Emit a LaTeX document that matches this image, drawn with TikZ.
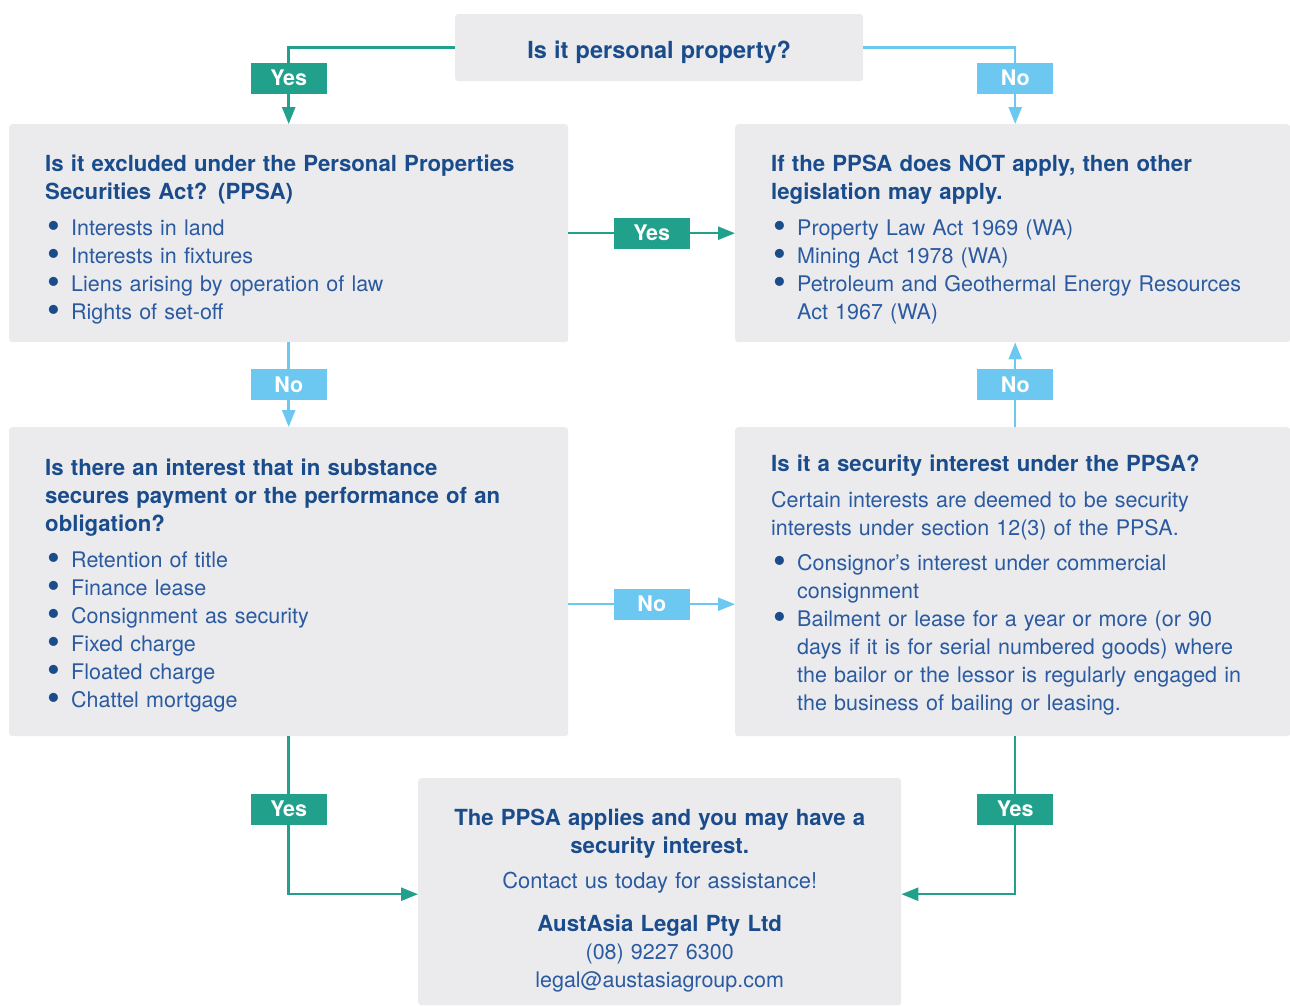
\documentclass[tikz,border=0pt]{standalone}
\usepackage{fontspec}
\usepackage{graphicx}
\setmainfont{TeX Gyre Heros}
\definecolor{boxgray}{RGB}{235, 235, 238}
\definecolor{headblue}{RGB}{26, 76, 140}
\definecolor{textblue}{RGB}{42, 90, 160}
\definecolor{yesteal}{RGB}{33, 160, 140}
\definecolor{nosky}{RGB}{108, 200, 240}
\usetikzlibrary{arrows.meta, positioning}
\newcommand{\qhead}[1]{{\color{headblue}\fontsize{22.2}{28}\selectfont\bfseries #1}}
\newcommand{\bitem}{\makebox[26pt][l]{\hspace{2pt}\smash{\raisebox{-3.5pt}{\color{headblue}\scalebox{1.7}{\textbullet}}}}}
\newcommand{\bcont}{\hspace*{26pt}}
\newcommand{\topgap}[1]{\rule{0pt}{#1}}

\begin{document}
\begin{tikzpicture}[x=1pt, y=-1pt,
  qbox/.style={fill=boxgray, rounded corners=3pt, anchor=north west, inner xsep=36pt, inner ysep=0pt,
    align=left, text=textblue, font=\fontsize{21.5}{28}\selectfont},
  cbox/.style={qbox, align=center},
  yeslbl/.style={fill=yesteal, text=white, font=\fontsize{21.5}{24}\selectfont\bfseries,
    minimum width=76pt, minimum height=31pt, inner sep=0pt},
  nolbl/.style={yeslbl, fill=nosky},
  yesline/.style={draw=yesteal, line width=2.5pt, -{Triangle[length=17pt, width=13pt]}},
  noline/.style={yesline, draw=nosky}]
  \useasboundingbox (0,0) rectangle (1290,1005);

  % Question boxes
  \node[cbox, minimum width=408pt, text width=336pt, minimum height=67pt] (prop) at (455,14)
    {\topgap{27pt}{\color{headblue}\fontsize{23.5}{28}\selectfont\bfseries Is it personal property?}};

  \node[qbox, minimum width=559pt, text width=487pt, minimum height=218pt] (excl) at (9,124) {%
    \topgap{28.5pt}\qhead{Is it excluded under the Personal Properties\\Securities Act? (PPSA)}\\[8pt]
    \bitem Interests in land\\
    \bitem Interests in fixtures\\
    \bitem Liens arising by operation of law\\
    \bitem Rights of set-off};

  \node[qbox, minimum width=555pt, text width=483pt, minimum height=218pt] (other) at (735,124) {%
    \topgap{28.5pt}\qhead{If the PPSA does NOT apply, then other\\legislation may apply.}\\[8pt]
    \bitem Property Law Act 1969 (WA)\\
    \bitem Mining Act 1978 (WA)\\
    \bitem Petroleum and Geothermal Energy Resources\\
    \bcont Act 1967 (WA)};

  \node[qbox, minimum width=559pt, text width=487pt, minimum height=309pt] (subst) at (9,427) {%
    \topgap{23.5pt}\qhead{Is there an interest that in substance\\secures payment or the performance of an\\obligation?}\\[8pt]
    \bitem Retention of title\\
    \bitem Finance lease\\
    \bitem Consignment as security\\
    \bitem Fixed charge\\
    \bitem Floated charge\\
    \bitem Chattel mortgage};

  \node[qbox, minimum width=555pt, text width=483pt, minimum height=309pt] (secint) at (735,427) {%
    \topgap{22.5pt}\qhead{Is it a security interest under the PPSA?}\\[8pt]
    Certain interests are deemed to be security\\
    interests under section 12(3) of the PPSA.\\[7pt]
    \bitem Consignor’s interest under commercial\\
    \bcont consignment\\
    \bitem Bailment or lease for a year or more (or 90\\
    \bcont days if it is for serial numbered goods) where\\
    \bcont the bailor or the lessor is regularly engaged in\\
    \bcont the business of bailing or leasing.};

  % Result
  \node[cbox, minimum width=483pt, text width=411pt, minimum height=227pt] (applies) at (418,778) {%
    \topgap{34.5pt}\qhead{The PPSA applies and you may have a\\security interest.}\\[7pt]
    {\fontsize{21.9}{28}\selectfont Contact us today for assistance!}\\[15pt]
    \qhead{AustAsia Legal Pty Ltd}\\
    (08) 9227 6300\\
    legal@austasiagroup.com};

  % Connectors
  \draw[yesline] (prop.west) -| node[yeslbl, pos=0.7] (y1) {Yes} (excl.north);
  \draw[noline] (prop.east) -| node[nolbl, pos=0.7] (n1) {No} ([xshift=2.5pt]other.north);
  \draw[yesline] (excl.east) -- node[yeslbl] (y2) {Yes} (other.west);
  \draw[noline] (excl.south) -- node[nolbl] (n2) {No} (subst.north);
  \draw[noline] ([xshift=2.5pt]secint.north) -- node[nolbl] (n3) {No} ([xshift=2.5pt]other.south);
  \draw[noline] ([yshift=-22.5pt]subst.east) -- node[nolbl] (n4) {No} ([yshift=-22.5pt]secint.west);
  \draw[yesline] (subst.south) |- node[yeslbl, pos=0.23] (y3) {Yes} ([yshift=-2.5pt]applies.west);
  \draw[yesline] ([xshift=2.5pt]secint.south) |- node[yeslbl, pos=0.23] (y4) {Yes} ([yshift=-2.5pt]applies.east);
\end{tikzpicture}
\end{document}
